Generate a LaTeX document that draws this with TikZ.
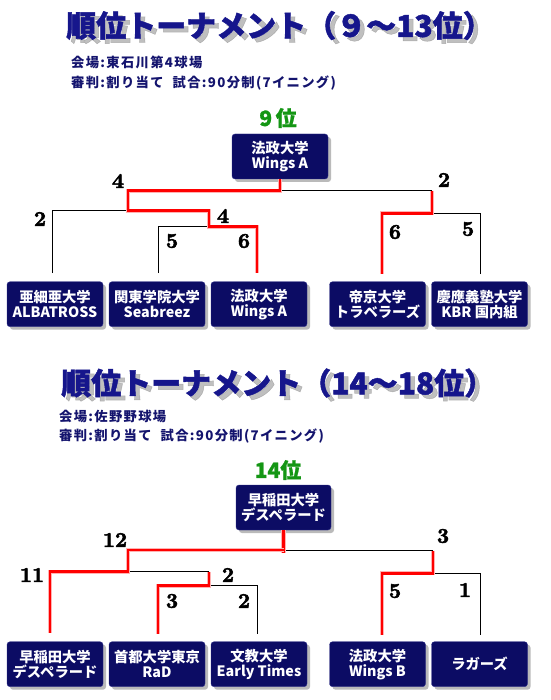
\documentclass[tikz,border=0pt]{standalone}
\usepackage{fontspec}
\newfontfamily\jp{Noto Sans CJK JP}
\newfontfamily\scorefont{lmroman10-bold.otf}[FakeBold=2.5]
\usetikzlibrary{shadows}
\definecolor{navy}{RGB}{12,12,100}
\definecolor{navyedge}{RGB}{50,50,140}
\definecolor{ttl}{RGB}{22,22,140}
\definecolor{subc}{RGB}{20,20,110}
\definecolor{grn}{RGB}{20,150,20}
\definecolor{redl}{RGB}{255,0,0}
\begin{document}
\begin{tikzpicture}[x=1pt,y=-1pt,
  team/.style={draw=navyedge, fill=navy, rounded corners=3pt, minimum width=96pt,
    minimum height=45pt, inner sep=0pt, text=white,
    font=\jp\bfseries\fontsize{14.3}{14.8}\selectfont, align=center,
    drop shadow={shadow xshift=3pt, shadow yshift=-3pt, opacity=0.45, fill=black!60}},
  blk/.style={draw=black, line width=0.8pt},
  win/.style={draw=redl, line width=2.6pt, preaction={draw=red!30, line width=4.2pt}},
  score/.style={font=\scorefont\fontsize{21}{21}\selectfont, inner sep=0pt},
  ttlfont/.style={font=\jp\bfseries\fontsize{30}{32}\selectfont\addfontfeature{FakeBold=1.5}, inner sep=0pt, anchor=west},
  subfont/.style={font=\jp\bfseries\fontsize{13.3}{14}\selectfont\addfontfeature{LetterSpace=10},
    text=subc, inner sep=0pt, anchor=west},
  rank/.style={font=\jp\bfseries\fontsize{21}{24}\selectfont\addfontfeature{FakeBold=1}, text=grn, inner sep=0pt}]
\useasboundingbox (0,0) rectangle (550,700);
\fill[white] (0,0) rectangle (550,700);

% ---------- top section ----------
\node[ttlfont, text=black!45, opacity=0.55] (tsa) at (70.5,29.5) {順位トーナメント（９～13位）};
\node[ttlfont, text=ttl] (title1) at (66,25.5) {順位トーナメント（９～13位）};
\node[subfont] (sub1a) at (71,62.5) {会場:東石川第4球場};
\node[subfont] (sub1b) at (71,83) {審判:割り当て\hspace{9pt}試合:90分制(7イニング)};
\node[rank] (rank1) at (278,118) {9\,位};

\node[team] (w1) at (280,156.5) {法政大学\\Wings A};
\node[team] (b1) at (55,304.2) {亜細亜大学\\ALBATROSS};
\node[team] (b2) at (157,304.2) {関東学院大学\\Seabreez};
\node[team] (b3) at (259,304.2) {法政大学\\Wings A};
\node[team] (b4) at (377.5,304.2) {帝京大学\\トラベラーズ};
\node[team] (b5) at (479.5,304.2) {慶應義塾大学\\KBR 国内組};

\coordinate (e1) at (52,273);
\coordinate (e2) at (158,273);
\coordinate (e3) at (257,273);
\coordinate (e4) at (382,274);
\coordinate (e5) at (480,274);
\coordinate (jA) at (128,210.7);
\coordinate (jB) at (209,226.7);
\coordinate (jC) at (128,190.7);
\coordinate (jD) at (432,190.7);
\coordinate (jE) at (432,213.3);

\draw[blk] (e1) |- (jA);
\draw[blk] (e2) |- (jB);
\draw[blk] (w1.south |- jC) -- (jD);
\draw[blk] (e5) |- (jE);
\draw[win] (w1.south) -- (w1.south |- jC) -- (jC) -- (jA) -- (jA -| jB) -- (jB) -- (jB -| e3) -- (e3);
\draw[win] (jD) -- (jE) -- (jE -| e4) -- (e4);

\node[score] (s1) at (118,181) {4};
\node[score] (s2) at (444,180) {2};
\node[score] (s3) at (40,219) {2};
\node[score] (s4) at (223,216) {4};
\node[score] (s5) at (172,241) {5};
\node[score] (s6) at (244,241) {6};
\node[score] (s7) at (395,232) {6};
\node[score] (s8) at (468,229) {5};

% ---------- bottom section ----------
\node[ttlfont, text=black!45, opacity=0.55] (tsb) at (65.5,387) {順位トーナメント（14～18位）};
\node[ttlfont, text=ttl] (title2) at (61,383) {順位トーナメント（14～18位）};
\node[subfont] (sub2a) at (59,416.5) {会場:佐野野球場};
\node[subfont] (sub2b) at (59,436) {審判:割り当て\hspace{9pt}試合:90分制(7イニング)};
\node[rank] (rank2) at (278,470) {14位};

\node[team, minimum width=95pt] (w2) at (283.5,507.5) {早稲田大学\\デスペラード};
\node[team] (b6) at (55,664.2) {早稲田大学\\デスペラード};
\node[team] (b7) at (157,664.2) {首都大学東京\\RaD};
\node[team] (b8) at (259,664.2) {文教大学\\Early Times};
\node[team] (b9) at (377.5,664.2) {法政大学\\Wings B};
\node[team] (b10) at (479.5,664.2) {ラガーズ};

\coordinate (e6) at (50,633);
\coordinate (e7) at (158,634);
\coordinate (e8) at (257,634);
\coordinate (e9) at (382,635);
\coordinate (e10) at (480,635);
\coordinate (jF) at (128,571.7);
\coordinate (jG) at (209,585.7);
\coordinate (jH) at (128,550);
\coordinate (jI) at (433,550.7);
\coordinate (jJ) at (433,573.3);
\coordinate (jK) at (283.5,552.5);

\draw[blk] (w2.south |- jI) -- (jI);
\draw[blk] (jF) -- (jF -| jG);
\draw[blk] (jG) -| (e8);
\draw[blk] (jJ) -| (e10);
\draw[win] (w2.south) -- (jK);
\draw[win] (w2.south |- jH) -- (jH) -- (jF) -- (jF -| e6) -- (e6);
\draw[win] (jF -| jG) -- (jG) -- (jG -| e7) -- (e7);
\draw[win] (jI) -- (jJ) -- (jJ -| e9) -- (e9);

\node[score] (s9) at (115,540) {12};
\node[score] (s10) at (443,536) {3};
\node[score] (s11) at (32,575) {11};
\node[score] (s12) at (228,575) {2};
\node[score] (s13) at (172,601) {3};
\node[score] (s14) at (244,601) {2};
\node[score] (s15) at (395,591) {5};
\node[score] (s16) at (465,590) {1};
\end{tikzpicture}
\end{document}
